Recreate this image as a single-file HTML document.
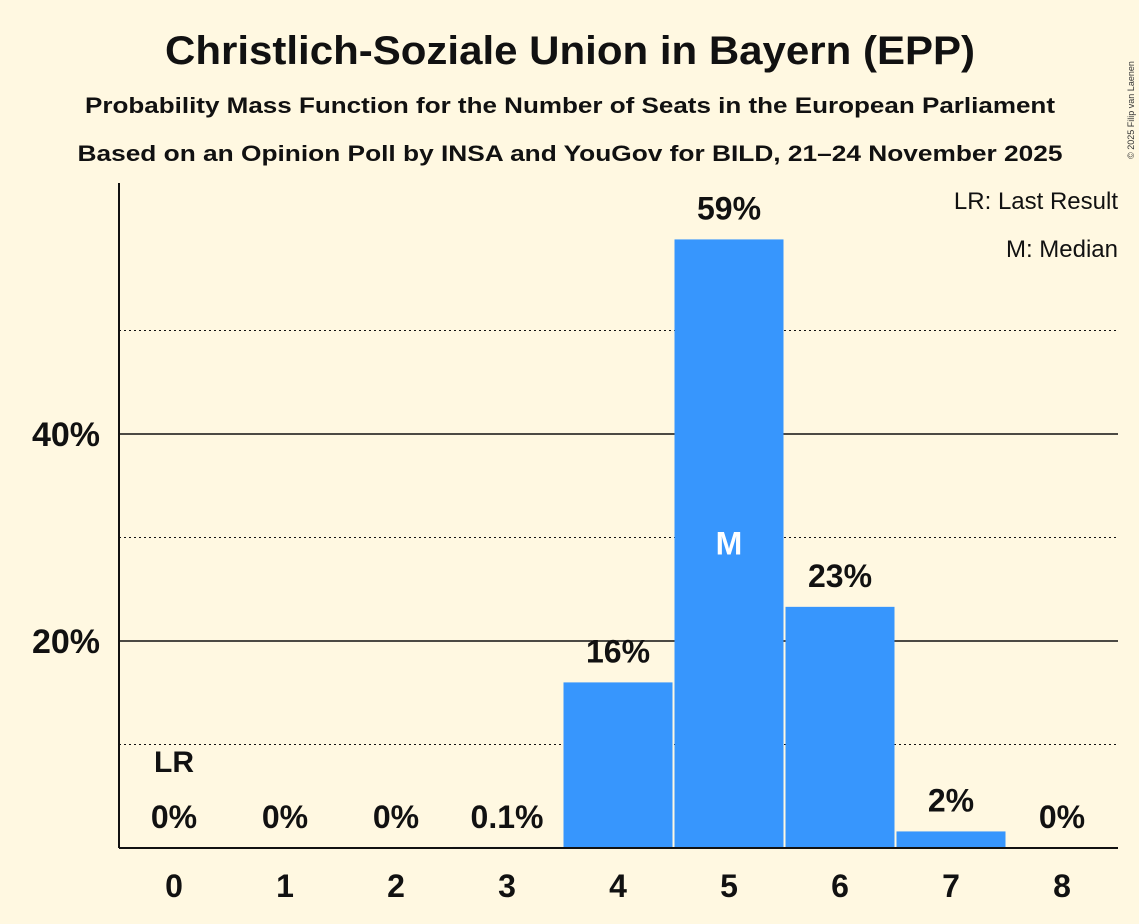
<!DOCTYPE html>
<html><head><meta charset="utf-8"><style>
body{margin:0;background:#fff8e1;}
svg{display:block;font-family:"Liberation Sans",sans-serif;font-weight:bold;}
</style></head><body>
<svg id="c" width="1139" height="924" viewBox="0 0 1139 924">
<rect width="1139" height="924" fill="#fff8e1"/>
<text x="570" y="64" font-size="40" text-anchor="middle" textLength="810" lengthAdjust="spacingAndGlyphs" fill="#111">Christlich-Soziale Union in Bayern (EPP)</text>
<text x="570" y="113" font-size="22" text-anchor="middle" textLength="970" lengthAdjust="spacingAndGlyphs" fill="#111">Probability Mass Function for the Number of Seats in the European Parliament</text>
<text x="570" y="161" font-size="22" text-anchor="middle" textLength="985" lengthAdjust="spacingAndGlyphs" fill="#111">Based on an Opinion Poll by INSA and YouGov for BILD, 21–24 November 2025</text>
<text x="1134" y="110" font-size="9" font-weight="normal" fill="#333" transform="rotate(-90 1134 110)" text-anchor="middle">© 2025 Filip van Laenen</text>
<g id="plot"></g>
<text x="1118" y="209" font-size="24" font-weight="normal" text-anchor="end" fill="#111">LR: Last Result</text>
<text x="1118" y="257" font-size="24" font-weight="normal" text-anchor="end" fill="#111">M: Median</text>
</svg>
<script>
const seats=[0,1,2,3,4,5,6,7,8];
const probs=[0,0,0,0.1,16,58.8,23.3,1.6,0];
const labels=["0%","0%","0%","0.1%","16%","59%","23%","2%","0%"];
const gridVals=[10,20,30,40,50];
const tickLabels=["20%","40%"];
const tickVals=[20,40];
const lastResult=0, median=5;
const NS="http://www.w3.org/2000/svg";
const g=document.getElementById('plot');
const x0=119,x1=1118,y0=848,pxPer=10.35,step=111,first=174,bw=109;
const y=v=>y0-v*pxPer, x=s=>first+s*step;
function mk(t,a,txt){const e=document.createElementNS(NS,t);for(const k in a)e.setAttribute(k,a[k]);if(txt!=null)e.textContent=txt;g.appendChild(e);return e;}
gridVals.forEach(v=>{const solid=tickVals.includes(v);
const l=mk('line',{x1:x0,x2:x1,y1:y(v),y2:y(v),stroke:'#111','stroke-width':solid?1.5:1,'stroke-dasharray':solid?'none':'2,3'});

});
tickVals.forEach((v,i)=>{const t=mk('text',{x:100,y:y(v)+12,'font-size':34,'text-anchor':'end',fill:'#111'},tickLabels[i]);

});
seats.forEach((s,i)=>{const p=probs[i];
if(p>0){const r=mk('rect',{x:x(s)-bw/2,y:y(p),width:bw,height:y0-y(p),fill:'#3796fd'});

}
const ly=p>=1?y(p)-20:828;
const t=mk('text',{x:x(s),y:ly,'font-size':32,'text-anchor':'middle',fill:'#111'},labels[i]);


const xt=mk('text',{x:x(s),y:897,'font-size':32,'text-anchor':'middle',fill:'#111'},String(s));

});
const lr=mk('text',{x:x(lastResult),y:772,'font-size':30,'text-anchor':'middle',fill:'#111'},'LR');


const m=mk('text',{x:x(median),y:y(probs[median]/2)+11,'font-size':32,'text-anchor':'middle',fill:'#fff'},'M');


const ax=mk('line',{x1:x0,x2:x0,y1:183,y2:y0,stroke:'#111','stroke-width':2});


const bx=mk('line',{x1:x0,x2:x1,y1:y0,y2:y0,stroke:'#111','stroke-width':2});


</script>
</body></html>
